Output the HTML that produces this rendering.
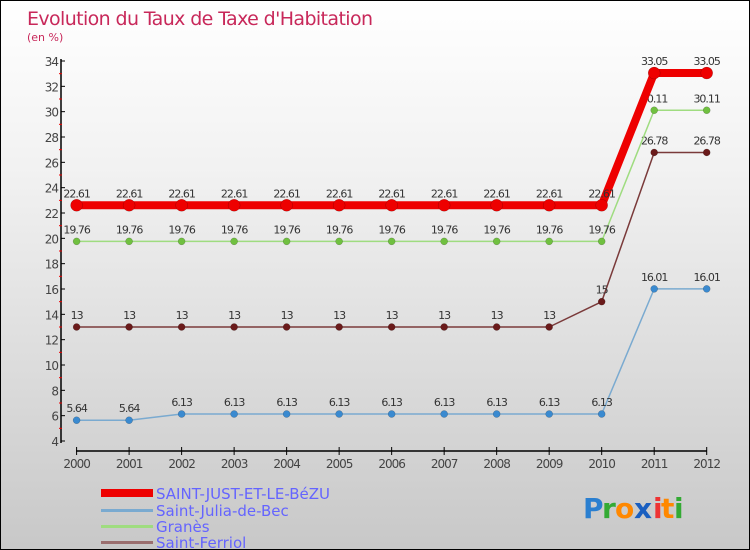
<!DOCTYPE html>
<html><head><meta charset="utf-8"><style>
body{margin:0}
#c{width:750px;height:550px;position:relative;box-sizing:border-box;border:1px solid #000;background:linear-gradient(#fff,#f2f2f2 30%,#c8c8c8);font-family:"DejaVu Sans","Liberation Sans",sans-serif;overflow:hidden}
svg text{font-family:"DejaVu Sans","Liberation Sans",sans-serif}
</style></head><body>
<div id="c">
<svg id="s" width="750" height="550">
<text x="26" y="24" font-size="19" fill="#c8285a" textLength="346">Evolution du Taux de Taxe d'Habitation</text>
<text x="26" y="40" font-size="11" fill="#c8285a">(en %)</text>
<g id="axes"></g><g id="series"></g>
<g>
<rect x="100" y="488" width="52" height="8" fill="#e00"/>
<text x="155" y="498" font-size="15" fill="#6464ff">SAINT-JUST-ET-LE-BéZU</text>
<rect x="100" y="508" width="52" height="3" fill="#7aaad0"/>
<text x="155" y="515" font-size="15" fill="#6464ff">Saint-Julia-de-Bec</text>
<rect x="100" y="524" width="52" height="3" fill="#9fdc80"/>
<text x="155" y="531" font-size="15" fill="#6464ff">Granès</text>
<rect x="100" y="540" width="52" height="3" fill="#9a6e6e"/>
<text x="155" y="547" font-size="15" fill="#6464ff">Saint-Ferriol</text>
</g>
<g font-size="28" font-weight="bold">
<text x="582" y="517" fill="#2a7fd0">P</text><text x="601" y="517" fill="#3a3">r</text><text x="614" y="517" fill="#f80">o</text><text x="633" y="517" fill="#1a5fc0">x</text><text x="652" y="517" fill="#e33">i</text><text x="660" y="517" fill="#f80">t</text><text x="673" y="517" fill="#3a3">i</text>
</g>
</svg></div>
<script>
const years=[2000,2001,2002,2003,2004,2005,2006,2007,2008,2009,2010,2011,2012];
const yTicks=[4,6,8,10,12,14,16,18,20,22,24,26,28,30,32,34];
const sJust=[22.61,22.61,22.61,22.61,22.61,22.61,22.61,22.61,22.61,22.61,22.61,33.05,33.05];
const sJulia=[5.64,5.64,6.13,6.13,6.13,6.13,6.13,6.13,6.13,6.13,6.13,16.01,16.01];
const sGranes=[19.76,19.76,19.76,19.76,19.76,19.76,19.76,19.76,19.76,19.76,19.76,30.11,30.11];
const sFerriol=[13,13,13,13,13,13,13,13,13,13,15,26.78,26.78];
const NS="http://www.w3.org/2000/svg";
const X=i=>75.6+i*(705.7-75.6)/12;
const Y=v=>440-(v-4)*(380/30);
function mk(t,a,p){const e=document.createElementNS(NS,t);for(const k in a)e.setAttribute(k,a[k]);p.appendChild(e);return e;}
const ax=document.getElementById('axes');
let l=mk('line',{x1:60,y1:58,x2:60,y2:442,stroke:'#000','stroke-width':1.5},ax);


l=mk('line',{x1:75,y1:450,x2:706,y2:450,stroke:'#000','stroke-width':1.5},ax);


yTicks.forEach(v=>{
 const y=Y(v);
 mk('line',{x1:60,y1:y,x2:64,y2:y,stroke:'#000'},ax);
 if(v<34)mk('line',{x1:58,y1:Y(v+1),x2:61,y2:Y(v+1),stroke:'#e00'},ax);
 const t=mk('text',{x:57,y:y+5,'font-size':12,'text-anchor':'end',fill:'#444','letter-spacing':'-1'},ax);
 t.textContent=v;
 
 
});
years.forEach((yr,i)=>{
 const x=X(i);
 mk('line',{x1:x,y1:446,x2:x,y2:454,stroke:'#000'},ax);
 const t=mk('text',{x:x,y:467,'font-size':12,'text-anchor':'middle',fill:'#444','letter-spacing':'-1'},ax);
 t.textContent=yr;
 
 
});
const sg=document.getElementById('series');
function fmt(v){return String(v).replace('.','.');}
function draw(data,color,w,r,dot,name,lblOff){
 const g=mk('g',{},sg);
 
 
 const p=mk('polyline',{points:data.map((v,i)=>X(i)+','+Y(v)).join(' '),fill:'none',stroke:color,'stroke-width':w,'stroke-linejoin':'round','stroke-linecap':'round'},g);
 
 
 data.forEach((v,i)=>{
  const c=mk('circle',{cx:X(i),cy:Y(v),r:r,fill:dot,stroke:'rgba(0,0,0,0.3)','stroke-width':0.5},g);
  
  
  const t=mk('text',{x:X(i),y:Y(v)-lblOff,'font-size':11,'text-anchor':'middle',fill:'#333','letter-spacing':'-1'},g);
  t.textContent=fmt(v);
  
  
 });
}
draw(sJulia,'#7aaad0',1.5,3.5,'#3a8ad0','saint-julia',8);
draw(sFerriol,'#7a3a3a',1.5,3.5,'#6a1a1a','saint-ferriol',8);
draw(sGranes,'#9fdc80',1.5,3.5,'#70c040','granes',8);
draw(sJust,'#e00',8,6,'#e00','saint-just',8);
</script>
</body></html>
